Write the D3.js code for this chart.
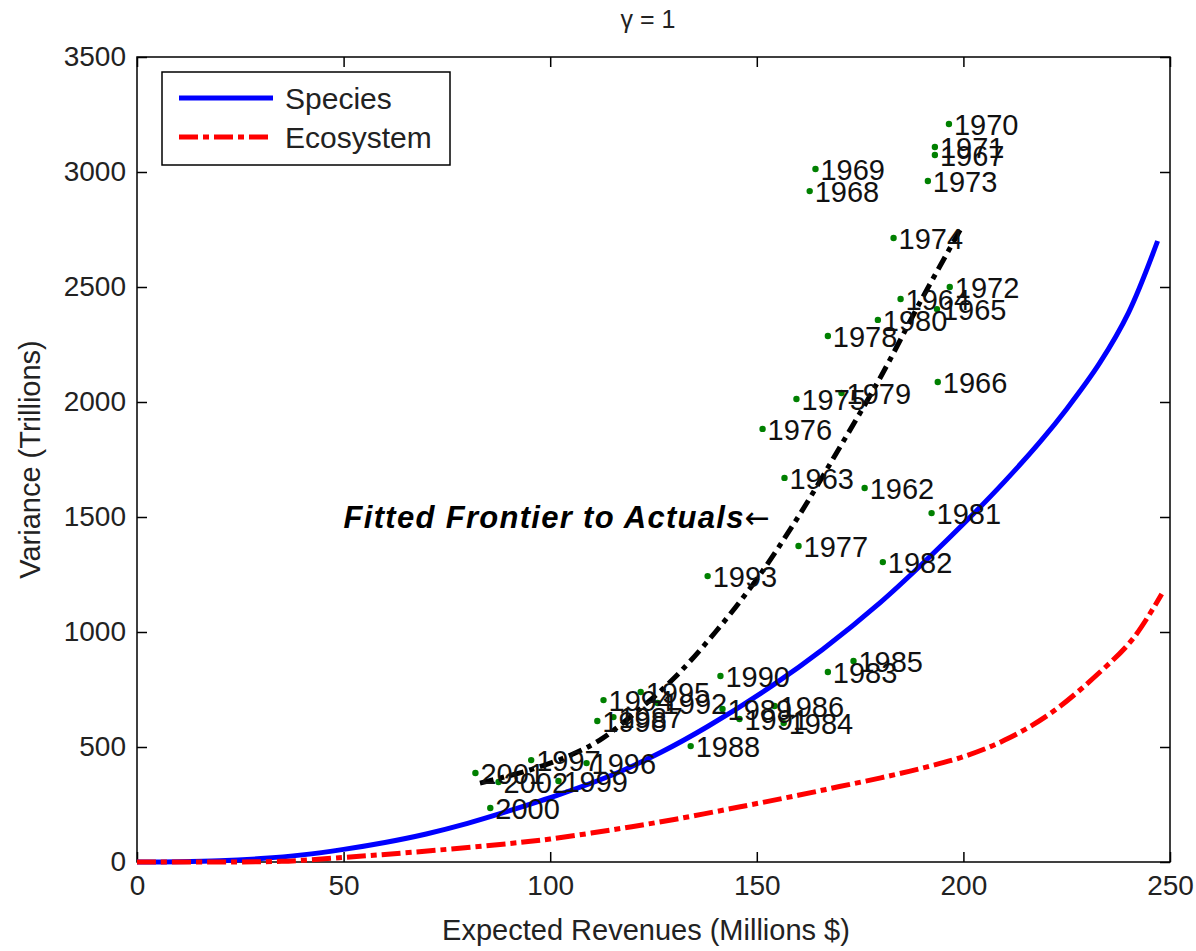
<!DOCTYPE html>
<html>
<head>
<meta charset="utf-8">
<script src="https://d3js.org/d3.v7.min.js"></script>
<style>
  body { margin: 0; background: #fff; }
  .tick line { stroke: #000; stroke-width: 1.5; }
  .tick text { font-size: 28px; fill: #222; }
</style>
</head>
<body>
<div id="chart"></div>
<script>
'use strict';

//#region data
const years     = [1962, 1963, 1964, 1965, 1966, 1967, 1968, 1969, 1970, 1971,
                   1972, 1973, 1974, 1975, 1976, 1977, 1978, 1979, 1980, 1981,
                   1982, 1983, 1984, 1985, 1986, 1987, 1988, 1989, 1990, 1991,
                   1992, 1993, 1994, 1995, 1996, 1997, 1998, 1999, 2000, 2001, 2002];
const revenues  = [176.1, 156.7, 184.8, 193.6, 193.8, 193.1, 162.8, 164.2, 196.5, 193.1,
                   196.7, 191.4, 183.1, 159.6, 151.4, 160.1, 167.2, 170.5, 179.3, 192.3,
                   180.5, 167.2, 156.5, 173.4, 154.3, 115.3, 134.0, 141.7, 141.2, 145.8,
                   126.0, 138.1, 112.9, 121.9, 108.8, 95.4, 111.4, 102.0, 85.5, 81.9, 87.5];
const variances = [1626, 1670, 2448, 2404, 2087, 3074, 2917, 3013, 3209, 3109,
                   2500, 2961, 2713, 2013, 1883, 1374, 2287, 2039, 2357, 1517,
                   1304, 826, 604, 874, 678, 630, 504, 665, 809, 622,
                   691, 1243, 704, 739, 430, 443, 613, 352, 235, 387, 348];

//species frontier (blue)
const speciesX = [0, 10, 20, 30, 40, 50, 60, 70, 80, 90, 102.5, 115, 126.7, 138, 154, 166,
                  180, 190, 202.5, 210, 218.7, 225, 233, 240, 247];
const speciesY = [0, 1, 5, 15, 31, 55, 85, 122, 168, 222, 295, 378, 476, 588, 770, 925,
                  1130, 1295, 1515, 1655, 1830, 1970, 2170, 2390, 2700];

//ecosystem frontier (red)
const ecoX = [0, 20, 35, 50, 60, 73, 90, 100, 115, 130, 146, 160, 170, 180, 190, 200,
              210, 221, 233, 241, 248];
const ecoY = [0, 0, 3, 20, 33, 52, 80, 100, 140, 185, 240, 290, 328, 366, 408, 458,
              530, 645, 825, 970, 1165];

//fitted frontier to actuals (black)
const fitX = [83, 95, 105, 112, 120, 130, 140, 150, 160, 170, 180, 190, 199.5];
const fitY = [343, 400, 465, 530, 640, 800, 1000, 1230, 1500, 1800, 2110, 2450, 2757];

const xTicks = [0, 50, 100, 150, 200, 250];
const yTicks = [0, 500, 1000, 1500, 2000, 2500, 3000, 3500];

const legendNames = ['Species', 'Ecosystem'];
const annotation  = {x: 50, y: 1500, text: 'Fitted Frontier to Actuals'};
//#endregion

const fontFamily = "'Liberation Sans', Arial, Helvetica, sans-serif";

let width  = 1196;
let height = 951;
let margin = {top: 57, right: 26, bottom: 89, left: 137};

let svg;        //main svg
let x, y;       //scale functions
let plotW, plotH;

initialise();

function initialise() {
  svg = d3.select('#chart').append('svg').attr('width', width).attr('height', height)
    .attr('font-family', fontFamily);
  svg.append('rect').attr('width', width).attr('height', height).attr('fill', '#fff');

  plotW = width - margin.left - margin.right;
  plotH = height - margin.top - margin.bottom;

  x = d3.scaleLinear().domain([0, 250]).range([margin.left, margin.left + plotW]);
  y = d3.scaleLinear().domain([0, 3500]).range([margin.top + plotH, margin.top]);

  setupDisplay();
  drawCurve(speciesX, speciesY, '#0000ff', null, 'species');
  drawCurve(ecoX, ecoY, '#ff0000', '19,5,6,5', 'eco');
  drawCurve(fitX, fitY, '#000', '14,6,5,6', 'fitted');
  drawPoints();
  drawAnnotation();
  drawLegend();
}

function setupDisplay() {
  //ticks point inwards, MATLAB style, on all four sides
  let fmt    = d3.format('d');
  let bottom = d3.axisBottom(x).tickValues(xTicks).tickSize(-10).tickPadding(13).tickFormat(fmt);
  let top    = d3.axisTop(x).tickValues(xTicks).tickSize(-10).tickFormat('');
  let left   = d3.axisLeft(y).tickValues(yTicks).tickSize(-10).tickPadding(11).tickFormat(fmt);
  let right  = d3.axisRight(y).tickValues(yTicks).tickSize(-10).tickFormat('');

  svg.append('g').attr('transform', 'translate(0,' + y(0) + ')').call(bottom);
  svg.append('g').attr('transform', 'translate(0,' + y(3500) + ')').call(top);
  svg.append('g').attr('transform', 'translate(' + x(0) + ',0)').call(left);
  svg.append('g').attr('transform', 'translate(' + x(250) + ',0)').call(right);
  svg.selectAll('.domain').remove();
  //d3 puts its own font on the axis groups, take it off
  svg.selectAll('g').attr('font-family', fontFamily).attr('font-size', null);

  //the box
  svg.append('rect')
    .attr('x', x(0)).attr('y', y(3500))
    .attr('width', x(250) - x(0)).attr('height', y(0) - y(3500))
    .attr('fill', 'none').attr('stroke', '#000').attr('stroke-width', 1.5);

  //title and axis labels
  svg.append('text').attr('x', 648).attr('y', 19)
    .attr('text-anchor', 'middle').attr('dominant-baseline', 'central')
    .style('font-size', '25px').attr('fill', '#222').text('\u03b3 = 1');

  svg.append('text').attr('x', 646).attr('y', 930)
    .attr('text-anchor', 'middle').attr('dominant-baseline', 'central')
    .style('font-size', '29px').attr('fill', '#222').text('Expected Revenues (Millions $)');

  svg.append('text')
    .attr('transform', 'translate(30,' + ((y(0) + y(3500)) / 2) + ') rotate(-90)')
    .attr('text-anchor', 'middle').attr('dominant-baseline', 'central')
    .style('font-size', '29px').attr('fill', '#222').text('Variance (Trillions)');
}

function drawCurve(xs, ys, colour, dash, cls) {
  let pts = xs.map(function(d, i) { return {x: d, y: ys[i]}; });
  let line = d3.line()
    .x(function(d) { return x(d.x); })
    .y(function(d) { return y(d.y); })
    .curve(d3.curveCatmullRom.alpha(0.5));

  svg.append('path').attr('class', cls).attr('d', line(pts))
    .attr('fill', 'none').attr('stroke', colour).attr('stroke-width', 5)
    .attr('stroke-dasharray', dash);
}

function drawPoints() {
  let pts = years.map(function(d, i) { return {year: d, x: revenues[i], y: variances[i]}; });

  svg.selectAll('.pt').data(pts).enter().append('circle').attr('class', 'pt')
    .attr('cx', function(d) { return x(d.x); })
    .attr('cy', function(d) { return y(d.y); })
    .attr('r', 3.2).attr('fill', '#008000');

  svg.selectAll('.ptlabel').data(pts).enter().append('text').attr('class', 'ptlabel')
    .attr('x', function(d) { return x(d.x) + 5; })
    .attr('y', function(d) { return y(d.y) + 1; })
    .attr('dominant-baseline', 'central')
    .style('font-size', '29px').attr('fill', '#111')
    .text(function(d) { return d.year; });
}

function drawAnnotation() {
  let t = svg.append('text').attr('x', x(annotation.x)).attr('y', y(annotation.y))
    .attr('dominant-baseline', 'central').attr('fill', '#000');
  t.append('tspan').style('font-size', '31px').style('font-weight', 'bold')
    .style('font-style', 'italic').style('letter-spacing', '1.3px').text(annotation.text);
  t.append('tspan').attr('font-family', "'DejaVu Sans', sans-serif")
    .style('font-size', '30px').text('\u2190');
}

function drawLegend() {
  let lg = svg.append('g').attr('transform', 'translate(162,72)');
  lg.append('rect').attr('width', 288).attr('height', 93)
    .attr('fill', '#fff').attr('stroke', '#000').attr('stroke-width', 1.5);

  let styles = [{c: '#0000ff', dash: null}, {c: '#ff0000', dash: '19,5,6,5'}];
  legendNames.forEach(function(name, i) {
    let yy = 26 + i * 39;
    lg.append('line').attr('x1', 17).attr('x2', 111).attr('y1', yy).attr('y2', yy)
      .attr('stroke', styles[i].c).attr('stroke-width', 5).attr('stroke-dasharray', styles[i].dash);
    lg.append('text').attr('x', 123).attr('y', yy).attr('dominant-baseline', 'central')
      .style('font-size', '30px').attr('fill', '#222').text(name);
  });
}
</script>
</body>
</html>
